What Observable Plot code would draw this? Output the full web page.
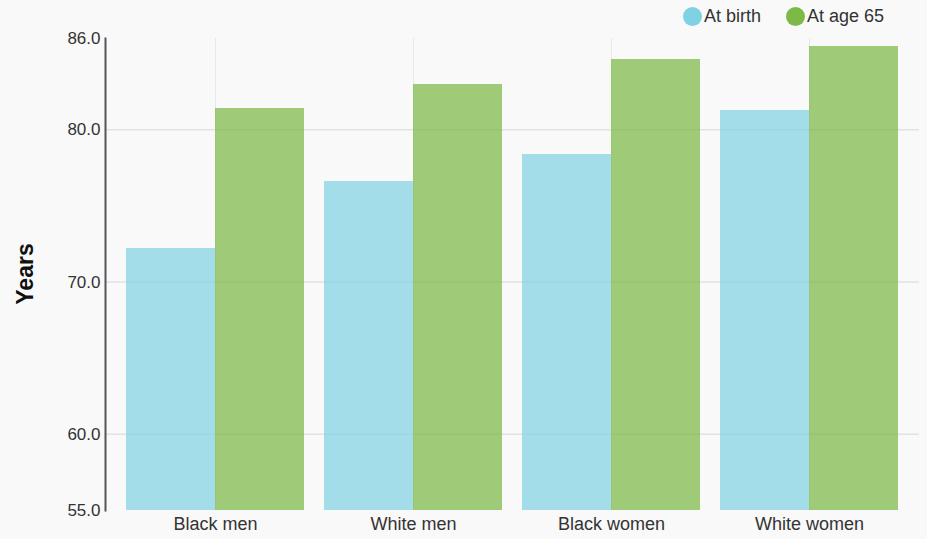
<!DOCTYPE html>
<html>
<head>
<meta charset="utf-8">
<script src="https://cdn.jsdelivr.net/npm/d3@7"></script>
<script src="https://cdn.jsdelivr.net/npm/@observablehq/plot@0.6"></script>
<style>
  html, body { margin: 0; padding: 0; background: #f9f9f9; }
  #wrap { position: relative; width: 927px; height: 539px; font-family: "Liberation Sans", Arial, sans-serif; }
  #legend { position: absolute; top: 5px; left: 683px; display: flex; align-items: center; font-size: 18px; color: #333; line-height: 22px; }
  #legend .item { display: flex; align-items: center; margin-right: 25px; }
  #legend .sw { width: 19px; height: 19px; border-radius: 50%; display: inline-block; margin-right: 2px; }
  #ylabel { position: absolute; left: 25px; top: 274px; transform: translate(-50%, -50%) rotate(-90deg); font-size: 23px; font-weight: bold; color: #111; white-space: nowrap; }
</style>
</head>
<body>
<div id="wrap">
  <div id="chart"></div>
  <div id="legend"></div>
  <div id="ylabel"></div>
</div>
<script>
const categories = ["Black men", "White men", "Black women", "White women"];
const series = ["At birth", "At age 65"];
const atBirth = [72.2, 76.6, 78.4, 81.3];
const atAge65 = [81.4, 83.0, 84.6, 85.5];
const yTicks = [55, 60, 70, 80, 86];
const gridTicks = [60, 70, 80];
const yLabel = "Years";
const colors = ["#7fd1e4", "#7cb947"];

const data = categories.flatMap((c, i) => [
  {category: c, series: series[0], value: atBirth[i]},
  {category: c, series: series[1], value: atAge65[i]}
]);

const W = 927, H = 539, mL = 105, mR = 8, mT = 38, mB = 29;
const pad = 0.1;
const step = (W - mL - mR) / (categories.length - pad + 2 * pad);
const half = step * (1 - pad) / 2;

const chart = Plot.plot({
  width: W,
  height: H,
  marginLeft: mL,
  marginRight: mR,
  marginTop: mT,
  marginBottom: mB,
  style: {background: "transparent", fontFamily: "'Liberation Sans', Arial, sans-serif", color: "#333"},
  x: {domain: categories, padding: pad},
  y: {domain: [55, 86]},
  marks: [
    Plot.ruleX(categories, {x: d => d, y1: 55, y2: 86, stroke: "#e8e8e8", strokeWidth: 1}),
    Plot.ruleY(gridTicks, {y: d => d, stroke: "#e2e2e2", strokeWidth: 1.5}),
    Plot.barY(data.filter(d => d.series === series[0]), {x: "category", y1: 55, y2: "value", fill: colors[0], fillOpacity: 0.7, insetRight: half, shapeRendering: "crispEdges"}),
    Plot.barY(data.filter(d => d.series === series[1]), {x: "category", y1: 55, y2: "value", fill: colors[1], fillOpacity: 0.72, insetLeft: half, shapeRendering: "crispEdges"}),
    Plot.axisY({ticks: yTicks, tickSize: 0, tickPadding: 5, fontSize: 17, tickFormat: d3.format(".1f"), label: null}),
    Plot.axisX({tickSize: 0, tickPadding: 7, fontSize: 18, label: null}),
    Plot.frame({anchor: "left", stroke: "#555", strokeWidth: 2})
  ]
});
document.getElementById("chart").appendChild(chart);
document.getElementById("ylabel").textContent = yLabel;

const legend = document.getElementById("legend");
series.forEach((s, i) => {
  const item = document.createElement("div");
  item.className = "item";
  const sw = document.createElement("span");
  sw.className = "sw";
  sw.style.background = colors[i];
  const t = document.createElement("span");
  t.textContent = s;
  item.appendChild(sw);
  item.appendChild(t);
  legend.appendChild(item);
});
</script>
</body>
</html>
